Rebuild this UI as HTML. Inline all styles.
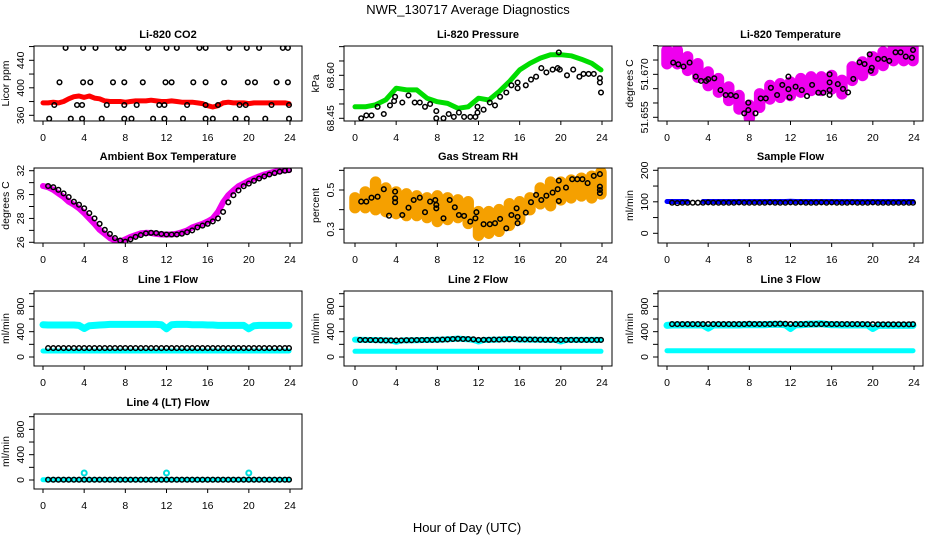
<!DOCTYPE html>
<html><head><meta charset="utf-8"><style>
html,body{margin:0;padding:0;background:#fff;}
svg{display:block;font-family:"Liberation Sans",sans-serif;}
</style></head><body>
<svg id="chart" width="936" height="540" viewBox="0 0 936 540" xmlns="http://www.w3.org/2000/svg">
<rect x="0" y="0" width="936" height="540" fill="#fff"/>
<text x="468" y="14" font-size="13" text-anchor="middle">NWR_130717  Average Diagnostics</text>
<text x="467" y="532" font-size="13" text-anchor="middle">Hour of Day (UTC)</text>
</svg>
<script>
// ---- shared x categories ----
const halfHours = [0,0.5,1,1.5,2,2.5,3,3.5,4,4.5,5,5.5,6,6.5,7,7.5,8,8.5,9,9.5,10,10.5,11,11.5,12,12.5,13,13.5,14,14.5,15,15.5,16,16.5,17,17.5,18,18.5,19,19.5,20,20.5,21,21.5,22,22.5,23,23.5,23.9];
const hours = [0,1,2,3,4,5,6,7,8,9,10,11,12,13,14,15,16,17,18,19,20,21,22,23,23.9];
const blackHours = [0.5,1,1.5,2,2.5,3,3.5,4,4.5,5,5.5,6,6.5,7,7.5,8,8.5,9,9.5,10,10.5,11,11.5,12,12.5,13,13.5,14,14.5,15,15.5,16,16.5,17,17.5,18,18.5,19,19.5,20,20.5,21,21.5,22,22.5,23,23.5,23.9];
const xTicks = [0,4,8,12,16,20,24];

// ---- CO2 ----
const co2Red = [378,378,379,378,380,384,387,388,386,388,385,384,381,380,380,380,379,380,381,381,381,382,381,380,380,381,380,379,379,379,378,377,374,372,374,378,379,378,378,378,377,378,378,378,378,378,378,378,377];
const co2BlackH = [2.2,3.9,5.1,7.3,7.8,10.2,12,13,15.2,15.8,18.1,19.8,21,23.3,23.8, 1.6,3.9,4.6,6.8,7.9,9.7,11.9,12.5,14.6,15.8,17.6,19.9,20.6,22.7,23.8, 1.1,3.3,3.8,6.2,7.9,9.1,11.3,11.8,14,15.8,17,19.1,19.7,22.2,23.9, 0.6,2.7,3.8,5.7,7.9,8.6,10.7,11.8,13.6,15.8,16.5,18.7,19.8,21.6,23.9];
const co2BlackV = [458,458,458,458,458,458,458,458,458,458,458,458,458,458,458, 408,408,408,408,408,408,408,408,408,408,408,408,408,408,408, 375,375,375,375,375,375,375,375,375,375,375,375,375,375,375, 355,355,355,355,355,355,355,355,355,355,355,355,355,355,355];

// ---- Pressure ----
const presGreen = [68.490,68.490,68.497,68.515,68.555,68.549,68.549,68.520,68.508,68.502,68.485,68.490,68.520,68.514,68.543,68.578,68.619,68.642,68.660,68.672,68.672,68.668,68.656,68.642,68.619];
const presBlackH = [0.6,1.1,1.6,2.2,2.8,3.4,3.8,3.9,4.6,5.2,5.8,6.3,6.8,7.3,7.9,7.9,8.6,9.1,9.6,10.1,10.6,11.2,11.7,11.9,11.9,12.5,13.1,13.6,14.1,14.7,15.2,15.8,15.8,16.6,17.1,17.6,18.1,18.6,19.2,19.7,19.8,19.9,20.6,21.2,21.8,22.2,22.7,23.2,23.8,23.8,23.9];
const presBlackV = [68.45,68.46,68.46,68.49,68.465,68.495,68.51,68.525,68.505,68.53,68.505,68.505,68.49,68.5,68.475,68.45,68.45,68.465,68.455,68.47,68.455,68.455,68.455,68.47,68.49,68.48,68.505,68.495,68.525,68.54,68.565,68.555,68.575,68.565,68.585,68.595,68.625,68.61,68.62,68.625,68.68,68.62,68.6,68.62,68.595,68.605,68.605,68.605,68.59,68.575,68.54];

// ---- Li-820 Temperature ----
const tempLow = [51.6737,51.6737,51.6714,51.6690,51.6661,51.6638,51.6609,51.6579,51.6547,51.6585,51.6614,51.6620,51.6626,51.6638,51.6644,51.6644,51.6649,51.6632,51.6679,51.6696,51.6714,51.6731,51.6748,51.6748,51.6748];
const tempHigh = [51.6784,51.6784,51.6761,51.6737,51.6708,51.6685,51.6656,51.6626,51.6592,51.6632,51.6661,51.6667,51.6673,51.6685,51.6691,51.6691,51.6696,51.6679,51.6726,51.6743,51.6761,51.6778,51.6795,51.6795,51.6795];
const tempBlackH = [0.6,1.1,1.6,2.2,2.8,3.3,3.8,4,4.6,5.2,5.7,6.2,6.7,7.5,7.9,7.9,8.6,9.1,9.6,10.1,10.7,11.2,11.8,11.8,11.9,12.5,13.1,13.6,14.1,14.7,15.2,15.8,15.8,15.8,15.8,16.6,17.1,17.6,18.1,18.7,19.2,19.7,19.8,19.9,20.5,21.1,21.6,22.2,22.7,23.2,23.8,23.9];
const tempBlackV = [51.6741,51.6735,51.6727,51.6741,51.6692,51.6677,51.6677,51.6683,51.6686,51.6645,51.6628,51.6628,51.6624,51.6564,51.6601,51.6575,51.6564,51.6616,51.6616,51.6653,51.6628,51.6663,51.6692,51.6648,51.6620,51.6657,51.6645,51.6624,51.6663,51.6636,51.6636,51.6672,51.6645,51.6628,51.6700,51.6666,51.6649,51.6637,51.6684,51.6742,51.6736,51.6770,51.6712,51.6723,51.6754,51.6754,51.6747,51.6777,51.6777,51.6762,51.6758,51.6785];

// ---- Ambient Box Temperature ----
const ambBand = [30.72,30.62,30.4,30.1,29.8,29.4,29.15,28.85,28.45,28.0,27.55,27.05,26.7,26.35,26.15,26.05,26.25,26.45,26.6,26.75,26.8,26.78,26.7,26.65,26.65,26.65,26.72,26.85,27.0,27.25,27.4,27.55,27.75,28.0,28.55,29.35,29.95,30.35,30.7,30.92,31.15,31.35,31.52,31.68,31.8,31.92,32.0,32.05,32.05];
const ambBlack = [30.72,30.62,30.4,30.1,29.8,29.4,29.15,28.85,28.45,28.0,27.55,27.05,26.7,26.35,26.15,26.05,26.25,26.45,26.6,26.75,26.8,26.78,26.7,26.65,26.65,26.65,26.72,26.85,27.0,27.25,27.4,27.55,27.75,28.0,28.55,29.35,29.95,30.35,30.7,30.92,31.15,31.35,31.52,31.68,31.8,31.92,32.0,32.05];

// ---- Gas Stream RH ----
const rhLow = [0.41,0.41,0.40,0.39,0.38,0.37,0.37,0.36,0.34,0.35,0.36,0.33,0.27,0.28,0.29,0.32,0.35,0.40,0.43,0.42,0.45,0.46,0.47,0.46,0.48];
const rhHigh = [0.46,0.49,0.54,0.51,0.49,0.48,0.47,0.46,0.47,0.46,0.45,0.44,0.39,0.39,0.40,0.43,0.44,0.46,0.51,0.54,0.54,0.55,0.56,0.57,0.59];
const rhBlackH = [0.6,1.1,1.6,2.2,2.8,3.3,3.9,3.9,3.9,4.6,5.2,5.7,6.3,6.8,7.3,7.8,7.9,7.9,8.6,9.2,9.7,10.1,10.6,11.2,11.7,11.8,12.5,13.1,13.6,14.1,14.7,15.2,15.7,15.8,15.8,16.6,17.1,17.6,18.1,18.6,19.2,19.7,19.8,19.8,20.5,21.1,21.6,22.1,22.6,23.2,23.8,23.8,23.8,23.8];
const rhBlackV = [0.441,0.441,0.461,0.466,0.504,0.369,0.492,0.458,0.438,0.373,0.410,0.449,0.461,0.387,0.441,0.449,0.424,0.407,0.356,0.449,0.412,0.373,0.368,0.339,0.356,0.387,0.326,0.326,0.331,0.353,0.305,0.373,0.407,0.363,0.331,0.385,0.438,0.475,0.449,0.471,0.487,0.504,0.548,0.444,0.512,0.555,0.555,0.555,0.535,0.572,0.581,0.517,0.500,0.484];

// ---- Sample Flow ----
const sampleBlue = [101,101,101,101,101,null,null,101,101,101,101,101,101,101,101,101,101,101,101,101,101,101,101,101,102,101,101,101,101,101,101,101,101,101,101,101,101,101,101,101,101,101,101,101,101,101,101,101,101];
const sampleBlack = [97,96,97,97,97,97,97,98,97,97,97,97,97,98,97,97,97,97,97,98,97,97,97,98,97,98,97,97,97,98,97,98,97,97,97,98,97,97,97,98,97,97,97,97,97,97,97,97];

// ---- Line flows ----
const line1Upper = [510,505,505,505,505,505,505,500,450,495,500,505,510,515,515,515,515,515,515,515,515,515,515,510,445,510,515,515,515,510,510,510,505,505,500,500,500,500,500,500,445,495,500,500,500,500,500,500,500];
const line1Lower = [95,95,95,95,95,95,95,95,95,95,95,95,95,95,95,95,95,95,95,95,95,95,95,95,95,95,95,95,95,95,95,95,95,95,95,95,95,95,95,95,95,95,95,95,95,95,95,95,95];
const line1Black = [140,140,140,140,140,140,140,140,140,140,140,140,140,140,140,142,140,140,140,140,140,140,140,142,140,140,140,140,140,140,140,140,140,140,140,140,140,140,140,140,140,140,140,140,140,140,140,140];
const line2Upper = [275,270,270,268,268,265,262,262,240,262,262,265,265,268,268,270,272,275,280,285,290,285,280,270,245,268,270,272,275,280,285,280,275,275,275,272,272,270,270,270,245,268,270,270,270,270,270,270,270];
const line2Lower = [90,90,90,90,90,90,90,90,90,90,90,90,90,90,90,90,90,90,90,90,90,90,90,90,90,90,90,90,90,90,90,90,90,90,90,90,90,90,90,90,90,90,90,90,90,90,90,90,90];
const line2Black = [270,268,268,265,265,262,262,262,262,265,265,268,268,270,270,272,275,278,285,288,285,285,280,270,272,272,275,275,278,280,282,280,278,276,275,274,272,272,270,270,270,270,270,270,270,270,270,270];
const line3Upper = [500,505,505,505,505,505,505,505,455,505,505,505,505,505,505,510,510,510,510,510,515,515,515,510,450,510,510,515,520,520,525,515,510,510,505,505,505,505,505,505,450,500,500,500,500,500,500,500,500];
const line3Lower = [100,100,100,100,100,100,100,100,100,100,100,100,100,100,100,100,100,100,100,100,100,100,100,100,100,100,100,100,100,100,100,100,100,100,100,100,100,100,100,100,100,100,100,100,100,100,100,100,100];
const line3Black = [520,520,520,520,520,520,520,522,520,520,520,520,520,520,520,524,522,522,522,522,524,526,524,522,520,520,520,520,520,520,522,520,520,520,520,520,520,520,518,518,516,516,516,516,516,516,516,518];
const line4Cyan = [5,5,5,5,5,5,5,5,5,5,5,5,5,5,5,5,5,5,5,5,5,5,5,5,5,5,5,5,5,5,5,5,5,5,5,5,5,5,5,5,5,5,5,5,5,5,5,5,5];
const line4SpikeH = [4,12,20];
const line4SpikeV = [110,110,110];
const line4Black = [5,5,5,5,5,5,5,5,5,5,5,5,5,5,5,5,5,5,5,5,5,5,5,5,5,5,5,5,5,5,5,5,5,5,5,5,5,5,5,5,5,5,5,5,5,5,5,5];

// ---- layout ----
const NS = 'http://www.w3.org/2000/svg';
const svg = document.getElementById('chart');
const colBox = [[34,302],[344,612],[658,923]];
const colX = [[43,290],[355,602],[667,914]];
const rowTop = [46,168,291,414];
const boxH = 75;

function mk(tag, attrs, parent) {
  const e = document.createElementNS(NS, tag);
  for (const k in attrs) e.setAttribute(k, attrs[k]);
  (parent || svg).appendChild(e);
  return e;
}

// cal = [valueA, pixelA, valueB, pixelB] : y-axis calibration
function makePanel(col, row, title, ylab, cal, yTickVals, yLabelVals, yLabelFmt, name) {
  const g = mk('g', {});
  
  
  const L = colBox[col][0], R = colBox[col][1], T = rowTop[row], B = T + boxH;
  const x0 = colX[col][0], x1 = colX[col][1];
  const xs = h => x0 + (h / 24) * (x1 - x0);
  const ys = v => cal[1] + (v - cal[0]) * (cal[3] - cal[1]) / (cal[2] - cal[0]);
  const clip = mk('clipPath', {id: 'clip-' + name}, g);
  mk('rect', {x: L, y: T, width: R - L, height: boxH}, clip);
  const plot = mk('g', {'clip-path': 'url(#clip-' + name + ')'}, g);
  
  
  const box = mk('rect', {x: L, y: T, width: R - L, height: boxH, fill: 'none', stroke: '#000', 'stroke-width': 1}, g);
  
  
  const t = mk('text', {x: (L + R) / 2, y: T - 8, 'font-size': 11, 'font-weight': 'bold', 'text-anchor': 'middle'}, g);
  
  
  t.textContent = title;
  const xa = mk('g', {}, g);
  
  
  mk('line', {x1: xs(0), x2: xs(24), y1: B, y2: B, stroke: '#000'}, xa);
  xTicks.forEach(v => {
    mk('line', {x1: xs(v), x2: xs(v), y1: B, y2: B + 4, stroke: '#000'}, xa);
    const tl = mk('text', {x: xs(v), y: B + 20, 'font-size': 10.5, 'text-anchor': 'middle'}, xa);
    
    
    tl.textContent = v;
  });
  const ya = mk('g', {}, g);
  
  
  yTickVals.forEach(v => {
    mk('line', {x1: L - 5, x2: L, y1: ys(v), y2: ys(v), stroke: '#000'}, ya);
  });
  mk('line', {x1: L, x2: L, y1: ys(yTickVals[0]), y2: ys(yTickVals[yTickVals.length - 1]), stroke: '#000'}, ya);
  yLabelVals.forEach(v => {
    const tx = L - 10, ty = ys(v);
    const tl = mk('text', {x: tx, y: ty, 'font-size': 10.5, 'text-anchor': 'middle', transform: 'rotate(-90 ' + tx + ' ' + ty + ')'}, ya);
    
    
    tl.textContent = yLabelFmt(v);
  });
  const yx = L - 25, yy = (T + B) / 2;
  const yt = mk('text', {x: yx, y: yy, 'font-size': 10.5, 'text-anchor': 'middle', transform: 'rotate(-90 ' + yx + ' ' + yy + ')'}, g);
  
  
  yt.textContent = ylab;
  return {g: plot, xs, ys};
}

function band(p, xsArr, vals, color, w, name) {
  let d = '', pen = false;
  vals.forEach((v, i) => {
    if (v === null) { pen = false; return; }
    d += (pen ? 'L' : 'M') + p.xs(xsArr[i]).toFixed(1) + ' ' + p.ys(v).toFixed(1);
    pen = true;
  });
  const e = mk('path', {d: d, fill: 'none', stroke: color, 'stroke-width': w, 'stroke-linecap': 'round', 'stroke-linejoin': 'round'}, p.g);
  
  
}
function ranges(p, xsArr, lows, highs, color, w, name) {
  const gg = mk('g', {}, p.g);
  
  
  lows.forEach((lv, i) => {
    mk('line', {x1: p.xs(xsArr[i]), x2: p.xs(xsArr[i]), y1: p.ys(lv), y2: p.ys(highs[i]), stroke: color, 'stroke-width': w, 'stroke-linecap': 'round'}, gg);
  });
}
function points(p, hs, vals, color, name, r, sw) {
  const gg = mk('g', {}, p.g);
  
  
  vals.forEach((v, i) => {
    const c = mk('circle', {cx: p.xs(hs[i]).toFixed(1), cy: p.ys(v).toFixed(1), r: r || 2.3, fill: 'none', stroke: color, 'stroke-width': sw || 1.5}, gg);
    
    
  });
}
const intFmt = v => String(v);

let p = makePanel(0, 0, 'Li-820 CO2', 'Licor ppm', [360,115.3,440,60.3], [360,380,400,420,440,460], [360,400,440], intFmt, 'co2');
band(p, halfHours, co2Red, '#ff0000', 5, 'co2-red-series');
points(p, co2BlackH, co2BlackV, '#000', 'co2-black-series');

p = makePanel(1, 0, 'Li-820 Pressure', 'kPa', [68.45,118.3,68.60,75.3], [68.45,68.50,68.55,68.60,68.65,68.70], [68.45,68.60], v => v.toFixed(2), 'pressure');
band(p, hours, presGreen, '#00dd00', 5, 'pressure-green-series');
points(p, presBlackH, presBlackV, '#000', 'pressure-black-series');

p = makePanel(2, 0, 'Li-820 Temperature', 'degrees C', [51.655,117.3,51.680,45.7], [51.655,51.660,51.665,51.670,51.675,51.680], [51.655,51.670], v => v.toFixed(3), 'li820-temp');
ranges(p, hours, tempLow, tempHigh, '#ee00ee', 11.5, 'li820-temp-magenta-series');
points(p, tempBlackH, tempBlackV, '#000', 'li820-temp-black-series');

p = makePanel(0, 1, 'Ambient Box Temperature', 'degrees C', [26,242.3,32,170.7], [26,27,28,29,30,31,32], [26,28,30,32], intFmt, 'ambient-temp');
band(p, halfHours, ambBand, '#ee00ee', 6, 'ambient-magenta-series');
points(p, blackHours, ambBlack, '#000', 'ambient-black-series');

p = makePanel(1, 1, 'Gas Stream RH', 'percent', [0.3,229.3,0.5,190], [0.3,0.4,0.5,0.6], [0.3,0.5], v => v.toFixed(1), 'rh');
ranges(p, hours, rhLow, rhHigh, '#f5a000', 11.5, 'rh-orange-series');
points(p, rhBlackH, rhBlackV, '#000', 'rh-black-series');

p = makePanel(2, 1, 'Sample Flow', 'ml/min', [0,233.3,200,170.3], [0,50,100,150,200], [0,100,200], intFmt, 'sample-flow');
band(p, halfHours, sampleBlue, '#0000ff', 5, 'sample-blue-series');
points(p, blackHours, sampleBlack, '#000', 'sample-black-series');

const fT = [0,200,400,600,800,1000], fL = [0,400,800];
p = makePanel(0, 2, 'Line 1 Flow', 'ml/min', [0,357,1000,293.7], fT, fL, intFmt, 'line1-flow');
band(p, halfHours, line1Upper, '#00ffff', 7, 'line1-cyan-upper');
band(p, halfHours, line1Lower, '#00ffff', 5, 'line1-cyan-lower');
points(p, blackHours, line1Black, '#000', 'line1-black-series');

p = makePanel(1, 2, 'Line 2 Flow', 'ml/min', [0,357,1000,293.7], fT, fL, intFmt, 'line2-flow');
band(p, halfHours, line2Upper, '#00ffff', 6, 'line2-cyan-upper');
band(p, halfHours, line2Lower, '#00ffff', 5, 'line2-cyan-lower');
points(p, blackHours, line2Black, '#000', 'line2-black-series');

p = makePanel(2, 2, 'Line 3 Flow', 'ml/min', [0,357,1000,293.7], fT, fL, intFmt, 'line3-flow');
band(p, halfHours, line3Upper, '#00ffff', 7, 'line3-cyan-upper');
band(p, halfHours, line3Lower, '#00ffff', 5, 'line3-cyan-lower');
points(p, blackHours, line3Black, '#000', 'line3-black-series');

p = makePanel(0, 3, 'Line 4 (LT) Flow', 'ml/min', [0,480,1000,416.7], fT, fL, intFmt, 'line4-flow');
band(p, halfHours, line4Cyan, '#00ffff', 5, 'line4-cyan-series');
points(p, line4SpikeH, line4SpikeV, '#00dddd', 'line4-cyan-spikes', 2.5, 2);
points(p, blackHours, line4Black, '#000', 'line4-black-series');
</script>
</body></html>
